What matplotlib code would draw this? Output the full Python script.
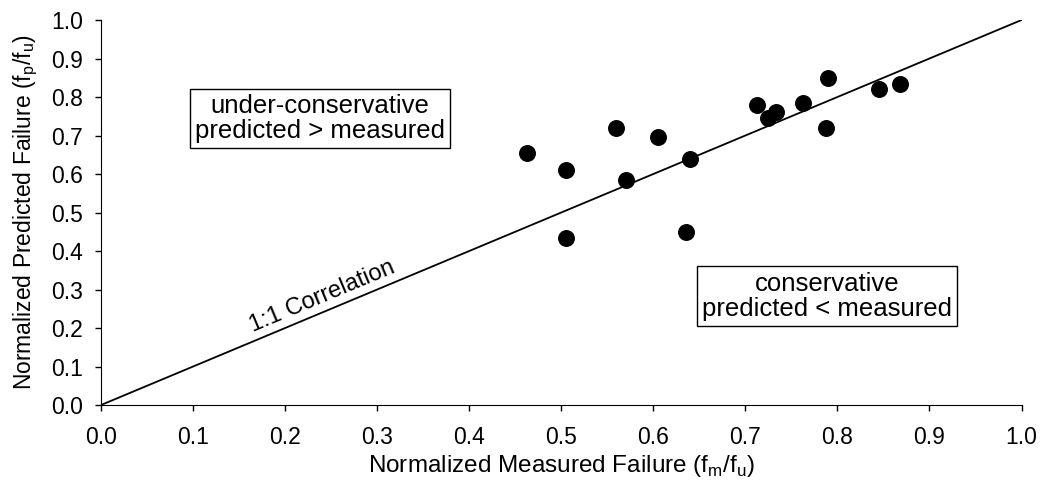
import matplotlib.pyplot as plt
import numpy as np

plt.rcParams['font.family'] = ['Liberation Sans', 'DejaVu Sans']

# measured vs predicted (normalized)
measured = [0.463, 0.505, 0.560, 0.570, 0.505, 0.605, 0.640, 0.635,
            0.713, 0.725, 0.733, 0.763, 0.790, 0.788, 0.845, 0.868]
predicted = [0.655, 0.610, 0.720, 0.585, 0.435, 0.695, 0.640, 0.450,
             0.780, 0.745, 0.760, 0.785, 0.850, 0.720, 0.820, 0.835]
ticks = np.round(np.arange(0, 1.01, 0.1), 1)

fig = plt.figure(figsize=(10.43, 4.88), dpi=100)
ax = fig.add_axes([0.0968, 0.170, 0.8826, 0.789])

ax.plot([0, 1], [0, 1], color='black', lw=1.3, zorder=2)
ax.scatter(measured, predicted, s=125, color='black', zorder=3)

ax.set_xlim(0, 1)
ax.set_ylim(0, 1)
ax.set_xticks(ticks)
ax.set_yticks(ticks)
ax.set_xticklabels(['%.1f' % t for t in ticks])
ax.set_yticklabels(['%.1f' % t for t in ticks])
ax.tick_params(labelsize=16.5, length=4, width=1)
ax.tick_params(axis='x', pad=11)
ax.tick_params(axis='y', pad=9)

for s in ['top', 'right']:
    ax.spines[s].set_visible(False)

ax.set_xlabel('Normalized Measured Failure (f$_\\mathregular{m}$/f$_\\mathregular{u}$)', fontsize=17.5, labelpad=3)
ax.set_ylabel('Normalized Predicted Failure (f$_\\mathregular{p}$/f$_\\mathregular{u}$)', fontsize=16.5, labelpad=8)

box = dict(boxstyle='square,pad=0.2', fc='white', ec='black', lw=1)
ax.text(0.238, 0.745, 'under-conservative\npredicted > measured', ha='center', va='center',
        fontsize=18.5, bbox=box, linespacing=1.05)
ax.text(0.789, 0.283, 'conservative\npredicted < measured', ha='center', va='center',
        fontsize=18.5, bbox=box, linespacing=1.05)
ax.text(0.24, 0.282, '1:1 Correlation', ha='center', va='center', rotation=22.7, fontsize=17)

fig.savefig('out.png', dpi=100)
